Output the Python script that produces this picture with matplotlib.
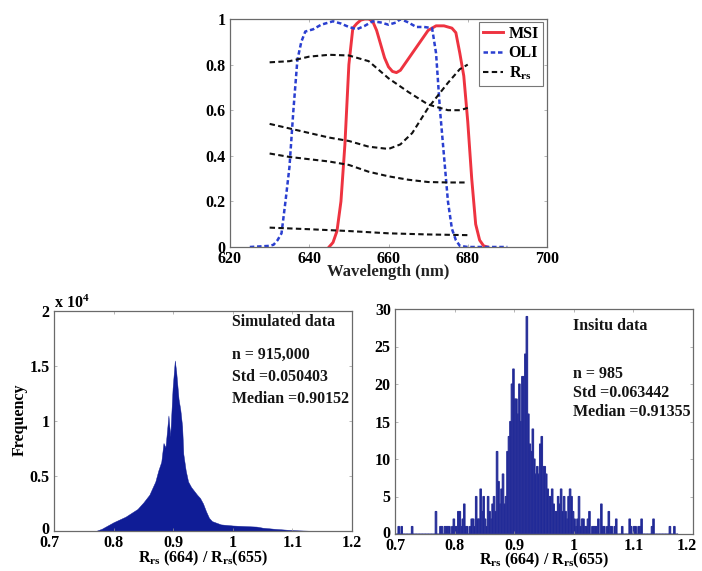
import matplotlib
matplotlib.use('Agg')
import matplotlib.pyplot as plt
from matplotlib.transforms import ScaledTranslation
import numpy as np

W, H = 702, 571
plt.rcParams.update({
    'font.family': 'Liberation Serif', 'font.weight': 'bold', 'font.size': 12,
    'mathtext.fontset': 'custom', 'mathtext.rm': 'Liberation Serif:bold',
    'mathtext.default': 'rm',
})

# --- spectral panel ---
msi_x = [645,646,647,648,649,650,651,652,653,654,655,656,657,658,659,660,661,662,663,664,666,668,670,672,674,676,677,678,679,680,681,682,683,684,685]
msi_y = [0,.02,.07,.2,.45,.8,.96,.98,.995,1,1,.99,.95,.89,.83,.79,.77,.765,.775,.8,.85,.9,.95,.97,.97,.96,.94,.85,.75,.55,.3,.1,.03,.005,0]
oli_x = [625,630,631,632,633,634,635,636,637,638,639,641,643,646,648,650,652,654,656,658,660,662,663,665,667,669,671,672,673,674,675,676,677,678,680,690]
oli_y = [0,.005,.01,.03,.06,.2,.35,.6,.82,.9,.945,.955,.975,.99,.98,.965,.955,.97,.99,.985,.975,.985,1,.985,.965,.965,.96,.85,.6,.4,.2,.08,.03,.005,0,0]
rrs1_x = [630,635,640,645,650,655,660,665,670,675,678,680]
rrs1_y = [.81,.815,.835,.843,.84,.815,.74,.68,.625,.6,.6,.61]
rrs2_x = [630,635,640,645,650,655,660,663,666,670,675,678,680]
rrs2_y = [.54,.52,.5,.48,.465,.44,.43,.45,.5,.61,.72,.78,.8]
rrs3_x = [630,635,640,645,650,655,660,665,670,675,680]
rrs3_y = [.41,.395,.385,.375,.36,.33,.31,.295,.285,.283,.283]
rrs4_x = [630,640,650,660,670,680]
rrs4_y = [.085,.078,.07,.06,.055,.052]

# --- simulated histogram envelope (counts / 1e4) ---
sim_x = [.77,.78,.79,.80,.81,.82,.83,.84,.85,.86,.865,.87,.875,.88,.8837,.887,.892,.895,.899,.9027,.905,.909,.912,.915,.917,.921,.925,.93,.94,.945,.95,.955,.96,.965,.975,.98,1.0,1.02,1.04,1.05,1.07,1.09,1.11,1.13,1.15]
sim_y = [0,.02,.05,.08,.105,.13,.165,.2,.26,.33,.39,.45,.55,.63,.8,.76,1.05,.86,1.3,1.55,1.45,1.2,1.1,.95,.7,.55,.45,.4,.33,.3,.25,.18,.12,.09,.07,.06,.05,.045,.04,.03,.02,.012,.006,.002,0]

# --- in situ histogram counts ---
ins_start = 0.70
ins_width = 0.0025
ins_counts = [
    0,0,1,0,1,0,0,0,0,0,  0,1,0,0,0,0,0,0,0,0,  0,0,0,0,0,0,0,3,0,0,
    1,1,0,1,1,1,1,0,1,2,  1,1,3,3,1,2,4,1,1,0,  1,2,2,1,5,2,2,6,3,5,
    2,1,5,3,2,4,5,3,11,7, 4,6,8,4,5,11,13,15,20,22, 18,18,16,20,15,21,21,24,29,16,
    12,11,14,10,8,9,8,12,13,9, 9,8,6,5,5,6,4,3,3,5, 4,6,3,5,3,2,5,6,5,3,
    2,1,2,5,1,2,2,1,1,2,  3,0,1,1,1,1,2,0,4,1,  1,0,1,3,1,1,0,1,2,0,
    0,0,1,0,0,0,0,2,1,0,  1,1,0,1,1,2,0,0,0,0,  0,0,1,2,0,0,0,0,0,0,
    0,0,0,0,1,0,0,1,0,0]
ins_bins = ins_start + ins_width * np.arange(len(ins_counts))

fig = plt.figure(figsize=(W/100, H/100), dpi=100)

def make_axes(x0, x1, y0, y1):
    ax = fig.add_axes([x0/W, 1-y1/H, (x1-x0)/W, (y1-y0)/H])
    for s in ax.spines.values():
        s.set_color('#6a6a6a'); s.set_linewidth(0.9)
    ax.tick_params(direction='in', length=2.5, width=0.5, color='#999999', pad=3,
                   top=True, right=True, labelsize=11.5)
    return ax

def ftext(px, py, s, **kw):
    fig.text(px/W, 1-py/H, s, **kw)

def nudge(label, dx_px, dy_px):
    label.set_transform(label.get_transform() + ScaledTranslation(dx_px/100, dy_px/100, fig.dpi_scale_trans))

# top panel
ax = make_axes(230, 547, 19, 247)
ax.plot(msi_x, msi_y, color='#ee3340', lw=2.1, label='MSI')
ax.plot(oli_x, oli_y, color='#2a3fd0', lw=1.8, ls=(0, (1.8, 1.1)), label='OLI')
ax.plot(rrs1_x, rrs1_y, color='#111111', lw=1.5, ls=(0, (2.6, 1.6)), label=r'R$_{\mathrm{rs}}$')
for xs, ys in [(rrs2_x, rrs2_y), (rrs3_x, rrs3_y), (rrs4_x, rrs4_y)]:
    ax.plot(xs, ys, color='#111111', lw=1.5, ls=(0, (2.6, 1.6)))
ax.set_xlim(620, 700); ax.set_ylim(0, 1)
ax.set_xticks([620, 640, 660, 680, 700])
ax.set_yticks([0, .2, .4, .6, .8, 1]); ax.set_yticklabels(['0', '0.2', '0.4', '0.6', '0.8', '1'])
leg = ax.legend(loc='upper right', bbox_to_anchor=(0.987, 0.987), fontsize=11.5, fancybox=False,
                framealpha=1, edgecolor='#777777', borderpad=0.25, labelspacing=0.22,
                handlelength=1.25, handletextpad=0.35, borderaxespad=0)
leg.get_frame().set_linewidth(0.8)
ftext(388, 272, 'Wavelength (nm)', ha='center', va='center', fontsize=12, color='#222222')

# lower left panel
ax2 = make_axes(54, 352, 311, 531)
ax2.fill_between(sim_x, 0, np.array(sim_y)*1e4, color='#0f1c96', lw=0.3)
ax2.set_xlim(0.7, 1.2); ax2.set_ylim(0, 2e4)
ax2.set_xticks([.7, .8, .9, 1, 1.1, 1.2]); ax2.set_xticklabels(['0.7', '0.8', '0.9', '1', '1.1', '1.2'])
ax2.set_yticks([0, .5e4, 1e4, 1.5e4, 2e4]); ax2.set_yticklabels(['0', '0.5', '1', '1.5', '2'])
nudge(ax2.get_xticklabels()[0], -5, 0)
nudge(ax2.get_yticklabels()[0], 0, 3)
ftext(54, 303, r'x 10$^{4}$', ha='left', va='center', fontsize=11.5)
ftext(20, 420, 'Frequency', rotation=90, ha='center', va='center', fontsize=11.5)
ftext(203, 558, r'R$_{\mathrm{rs}}$ (664) / R$_{\mathrm{rs}}$(655)', ha='center', va='center', fontsize=11.5)
for s, py in [('Simulated data', 322), ('n = 915,000', 355), ('Std =0.050403', 377), ('Median =0.90152', 399)]:
    ftext(232, py, s, ha='left', va='center', fontsize=11.4, color='#151515')

# lower right panel
ax3 = make_axes(395, 693, 309, 534)
ax3.bar(ins_bins, ins_counts, width=ins_width, align='edge', color='#0f1c96',
        edgecolor='#2a3199', linewidth=0.8, snap=False)
ax3.set_xlim(0.7, 1.2); ax3.set_ylim(0, 30)
ax3.set_xticks([.7, .8, .9, 1, 1.1, 1.2]); ax3.set_xticklabels(['0.7', '0.8', '0.9', '1', '1.1', '1.2'])
ax3.set_yticks([0, 5, 10, 15, 20, 25, 30])
nudge(ax3.get_xticklabels()[-1], -6, 0)
nudge(ax3.get_yticklabels()[0], 0, 2)
ftext(544, 560, r'R$_{\mathrm{rs}}$ (664) / R$_{\mathrm{rs}}$(655)', ha='center', va='center', fontsize=11.5)
for s, py in [('Insitu data', 326), ('n = 985', 374), ('Std =0.063442', 393), ('Median =0.91355', 412)]:
    ftext(573, py, s, ha='left', va='center', fontsize=11.5, color='#151515')

fig.savefig('out.png', dpi=100)
